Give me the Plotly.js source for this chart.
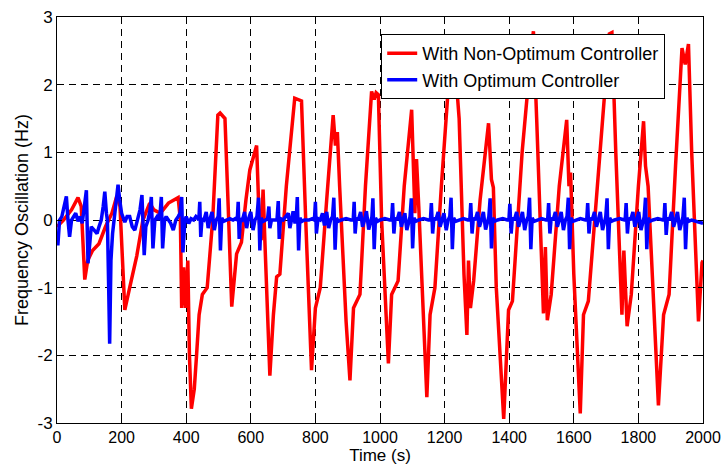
<!DOCTYPE html>
<html>
<head>
<meta charset="utf-8">
<script src="https://cdn.plot.ly/plotly-3.0.1.min.js"></script>
<style>html,body{margin:0;padding:0;background:#fff;}#chart{width:723px;height:466px;}</style>
</head>
<body>
<div id="chart"></div>
<script>
// Red: With Non-Optimum Controller
const redTime = [0,20,45,65,75,86,95,110,130,150,170,185,195,210,225,247,266,287,300,320,345,375,382,386,392,398,405,410,416,425,432,440,450,465,482,498,505,520,530,541,556,571,585,597,618,626,632,638,645,659,670,680,690,710,736,757,770,788,800,815,835,855,862,868,875,895,907,918,938,955,974,982,988,995,1005,1026,1036,1056,1075,1098,1108,1113,1120,1145,1155,1170,1190,1215,1230,1245,1260,1269,1274,1280,1290,1310,1336,1345,1351,1360,1383,1398,1410,1440,1470,1475,1485,1500,1506,1512,1518,1530,1555,1578,1585,1590,1600,1620,1630,1645,1680,1710,1718,1730,1749,1755,1765,1778,1800,1816,1822,1830,1840,1862,1878,1895,1915,1935,1945,1955,1965,1986,1997,2000];
const redFreq = [-0.1,0.0,0.15,0.33,0.2,-0.88,-0.6,-0.45,-0.35,-0.1,0.1,0.35,0.2,-1.33,-1.0,-0.53,0.0,0.25,0.15,0.1,0.25,0.33,0.0,-1.3,-0.7,-1.3,-0.6,-2.0,-2.79,-2.5,-2.0,-1.4,-1.1,-1.0,0.0,1.55,1.58,1.5,0.2,-1.28,-0.5,-0.33,0.3,0.74,1.1,0.0,-0.3,0.45,-0.5,-2.3,-1.4,-0.84,-0.8,0.5,1.8,1.76,0.0,-2.22,-1.3,-1.0,0.3,1.55,1.1,1.3,0.5,-1.5,-2.37,-1.3,-1.1,0.5,1.9,1.78,1.88,1.85,0.0,-2.12,-1.1,-0.9,0.5,1.63,0.1,0.9,0.2,-2.62,-1.4,-1.0,0.5,2.2,2.45,1.5,-0.8,-1.7,-0.6,-1.3,-0.9,0.3,1.43,0.6,0.48,-1.0,-2.94,-1.33,-1.2,1.0,2.6,2.79,1.5,-0.5,-1.38,-0.4,-1.48,-1.1,0.5,1.48,0.5,0.7,-0.8,-2.86,-1.4,-1.2,1.0,2.75,2.77,1.0,-1.4,-0.45,-1.57,-1.1,0.5,1.46,0.8,0.5,-0.5,-2.74,-1.4,-1.1,0.8,2.54,2.3,2.6,1.0,-1.5,-0.63,-0.6];

// Blue: With Optimum Controller
const blueTime = [0,3,8,15,22,29,34,39,45,50,58,65,72,78,84,91,96,101,106,115,124,130,137,143,148,153,156,160,163,167,172,179,185,189,194,200,210,217,225,233,241,250,257,263,267,270,275,282,288,292,297,303,310,316,320,323,327,333,338,345,352,360,368,375,381,386,390,396,
400,408,415,423,430,436,439,442,445,449,455,462,468,473,480,487,493,499,502,506,510,516,525,535,545,552,
558,561,564,568,574,581,587,592,600,607,613,619,624,628,632,638,646,652,656,659,664,672,
681,685,688,692,700,716,721,726,731,737,741,744,748,752,758,766,780,790,
797,800,803,808,815,822,828,835,841,847,853,857,861,865,871,880,895,910,
917,920,923,927,933,940,946,952,958,965,971,975,978,982,986,992,1000,1015,1030,
1036,1039,1043,1047,1053,1060,1066,1071,1077,1083,1089,1093,1097,1101,1105,1111,1120,1135,1150,
1156,1159,1163,1167,1173,1180,1186,1192,1198,1205,1211,1216,1220,1224,1228,1234,1243,1258,1272,
1278,1281,1285,1289,1295,1302,1308,1314,1320,1327,1333,1337,1341,1345,1349,1355,1364,1380,1394,
1399,1402,1406,1410,1416,1423,1429,1435,1441,1448,1454,1459,1463,1467,1471,1477,1486,1500,1514,
1519,1522,1526,1530,1536,1543,1549,1555,1561,1568,1574,1579,1583,1587,1591,1597,1606,1620,1636,
1640,1643,1647,1651,1657,1664,1670,1676,1682,1689,1695,1699,1703,1707,1711,1717,1726,1742,1757,
1759,1762,1766,1770,1776,1783,1789,1795,1801,1808,1814,1818,1822,1826,1830,1836,1845,1860,1876,
1879,1882,1886,1890,1896,1903,1909,1915,1921,1928,1934,1938,1942,1946,1950,1956,1965,1980,2000];
const blueFreq = [-0.35,-0.35,0.0,0.05,0.2,0.35,0.0,-0.25,0.0,0.05,0.1,-0.02,0.05,-0.05,0.2,0.44,-0.64,-0.3,-0.1,-0.15,-0.2,-0.1,0.0,0.2,0.42,0.1,0.0,-1.0,-1.83,-0.6,-0.2,0.1,0.3,0.52,0.3,0.1,-0.03,0.05,0.05,-0.1,-0.15,0.0,0.15,0.37,0.0,-0.52,-0.1,0.0,0.15,0.34,-0.42,0.0,0.05,0.0,0.15,0.34,-0.42,0.0,0.05,0.0,-0.05,-0.15,0.0,0.05,0.1,0.34,-0.48,0.0,
0.05,-0.05,0.02,0.0,0.05,0.02,0.0,0.27,-0.25,0.02,0.0,0.12,-0.12,0.0,0.12,-0.15,0.0,0.05,0.32,-0.45,0.03,-0.02,0.0,0.02,0.0,0.02,
0.0,0.27,-0.28,0.02,0.0,0.12,-0.12,0.0,0.12,-0.15,0.0,0.05,0.33,-0.45,0.03,-0.02,0.0,0.02,0.2,-0.12,0.0,0.0,
0.0,0.28,-0.28,0.02,0.0,0.1,-0.12,0.0,0.13,-0.05,0.05,0.34,-0.45,0.03,-0.02,0.0,0.0,0.02,
0.0,0.27,-0.2,0.02,0.0,0.1,-0.08,0.12,-0.12,0.0,0.05,0.33,-0.44,0.03,-0.02,0.0,0.02,0.0,
0.0,0.27,-0.2,0.03,0.0,0.12,-0.1,0.0,0.13,-0.14,0.0,0.05,0.32,-0.43,0.03,-0.02,0.0,0.02,0.0,
0.0,0.25,-0.2,0.03,0.0,0.12,-0.1,0.0,0.1,-0.15,0.0,0.05,0.32,-0.42,0.03,-0.02,0.0,0.02,0.0,
0.0,0.25,-0.2,0.03,0.0,0.12,-0.1,0.0,0.1,-0.15,0.0,0.05,0.33,-0.43,0.03,-0.02,0.0,0.02,0.0,
0.0,0.25,-0.2,0.03,0.0,0.12,-0.1,0.0,0.12,-0.14,0.0,0.05,0.32,-0.42,0.03,-0.02,0.0,0.02,0.0,
0.0,0.24,-0.2,0.03,0.0,0.12,-0.1,0.0,0.12,-0.15,0.0,0.05,0.33,-0.43,0.03,-0.02,0.0,0.02,0.0,
0.0,0.25,-0.2,0.03,0.0,0.12,-0.1,0.0,0.12,-0.15,0.0,0.05,0.33,-0.43,0.03,-0.02,0.0,0.02,0.0,
0.0,0.25,-0.2,0.03,0.0,0.12,-0.1,0.0,0.12,-0.15,0.0,0.05,0.32,-0.43,0.03,-0.02,0.0,0.02,0.0,
0.0,0.25,-0.2,0.03,0.0,0.12,-0.1,0.0,0.12,-0.15,0.0,0.05,0.33,-0.43,0.03,-0.02,0.0,0.02,0.0,
0.0,0.25,-0.22,0.03,0.0,0.12,-0.1,0.0,0.12,-0.15,0.0,0.05,0.33,-0.43,0.03,-0.02,0.0,-0.02,-0.05];

const xTicks = [0,200,400,600,800,1000,1200,1400,1600,1800,2000];
const yTicks = [-3,-2,-1,0,1,2,3];
const seriesNames = ['With Non-Optimum Controller','With Optimum Controller'];

const font = {family: 'Liberation Sans, Arial, sans-serif', color: '#000'};

const traces = [
  {x: redTime, y: redFreq, name: seriesNames[0], type: 'scatter', mode: 'lines',
   line: {color: '#ff0000', width: 3.5}},
  {x: blueTime, y: blueFreq, name: seriesNames[1], type: 'scatter', mode: 'lines',
   line: {color: '#0000ff', width: 3.5}}
];

const axisCommon = {
  showgrid: true, gridcolor: '#000', gridwidth: 1, griddash: '7px,5px',
  zeroline: false, showline: true, linecolor: '#000', linewidth: 1,
  mirror: 'ticks', ticks: 'inside', ticklen: 5, tickcolor: '#000',
  tickfont: Object.assign({size: 16}, font)
};

const layout = {
  width: 723, height: 466,
  margin: {l: 57, r: 20, t: 17, b: 43},
  paper_bgcolor: '#fff', plot_bgcolor: '#fff',
  showlegend: true,
  font: font,
  xaxis: Object.assign({}, axisCommon, {
    range: [0, 2000], tickmode: 'array', tickvals: xTicks, ticktext: xTicks.map(String),
    title: {text: 'Time (s)', font: Object.assign({size: 17}, font), standoff: 3}
  }),
  yaxis: Object.assign({}, axisCommon, {
    range: [-3, 3], tickmode: 'array', tickvals: yTicks, ticktext: yTicks.map(String),
    tickfont: Object.assign({size: 17}, font),
    title: {text: 'Frequency Oscillation (Hz)', font: Object.assign({size: 18}, font), standoff: 4}
  }),
  legend: {
    x: 0.9415, y: 0.958, xanchor: 'right', yanchor: 'top',
    bgcolor: '#fff', bordercolor: '#000', borderwidth: 1,
    font: Object.assign({size: 18}, font), itemwidth: 30, tracegroupgap: 0
  }
};

Plotly.newPlot('chart', traces, layout, {displayModeBar: false, staticPlot: true});
</script>
</body>
</html>
